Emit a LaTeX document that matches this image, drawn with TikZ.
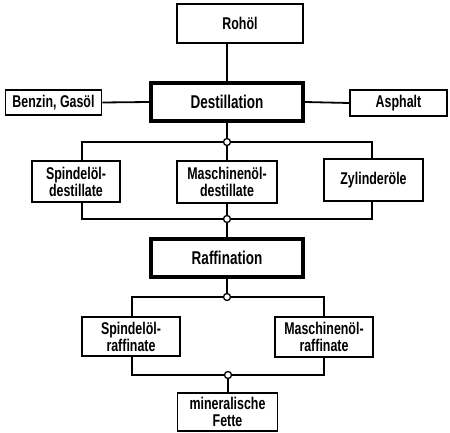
\documentclass[tikz,border=0pt]{standalone}
\usepackage{fontspec}
\setmainfont{Liberation Sans}[FakeStretch=0.73]
\begin{document}
\begin{tikzpicture}[x=1pt,y=-1pt,
  box/.style={draw,line width=1.8pt,inner sep=0pt,align=center,font=\fontsize{17}{17}\selectfont\bfseries},
  mainbox/.style={box,line width=3.8pt,font=\fontsize{18.5}{19}\selectfont\bfseries},
  link/.style={line width=1.8pt},
  junc/.style={circle,draw,line width=1.3pt,fill=white,inner sep=0pt,minimum size=7pt}]
\useasboundingbox (0,0) rectangle (450,433);

% process boxes
\node[box,minimum width=126pt,minimum height=39pt] (rohoel) at (240,23.5) {Rohöl};
\node[mainbox,minimum width=152pt,minimum height=38pt] (dest) at (227,102) {Destillation};
\node[box,minimum width=96pt,minimum height=25pt] (benzin) at (53.5,102.5) {Benzin, Gasöl};
\node[box,minimum width=97pt,minimum height=26pt] (asph) at (398.5,103) {Asphalt};

\node[box,minimum width=88pt,minimum height=41pt] (sd) at (76,181.5) {Spindelöl-\\destillate};
\node[box,minimum width=100pt,minimum height=42pt] (md) at (227,182) {Maschinenöl-\\destillate};
\node[box,minimum width=99pt,minimum height=42pt] (zyl) at (373.5,180) {Zylinderöle};

\node[mainbox,minimum width=152pt,minimum height=38pt] (raff) at (227,258) {Raffination};

\node[box,minimum width=98pt,minimum height=39pt] (sr) at (131,336.5) {Spindelöl-\\raffinate};
\node[box,minimum width=98pt,minimum height=40pt] (mr) at (324,337) {Maschinenöl-\\raffinate};

\node[box,minimum width=100pt,minimum height=38pt] (fette) at (227.5,412) {mineralische\\Fette};

% bus corners
\coordinate (b1l) at (82,142);  \coordinate (b1r) at (372,142);
\coordinate (b2l) at (82,219);  \coordinate (b2r) at (372,219);
\coordinate (b3l) at (132,297); \coordinate (b3r) at (324,297);
\coordinate (b4l) at (132,375); \coordinate (b4r) at (324,375);

% junctions
\node[junc] (j1) at (227,142) {};
\node[junc] (j2) at (227,219) {};
\node[junc] (j3) at (227,297) {};
\node[junc] (j4) at (228,375) {};

% connectors
\draw[link] (rohoel.south -| dest.north) -- (dest.north);
\draw[link] (benzin.east) -- (dest.west);
\draw[link] (dest.east) -- (asph.west);

\draw[link] (dest.south) -- (j1);
\draw[link] (j1) -- (b1l) -- (b1l |- sd.north);
\draw[link] (j1) -- (b1r) -- (b1r |- zyl.north);
\draw[link] (j1) -- (md.north);

\draw[link] (sd.south -| b2l) -- (b2l) -- (j2);
\draw[link] (zyl.south -| b2r) -- (b2r) -- (j2);
\draw[link] (md.south) -- (j2);
\draw[link] (j2) -- (raff.north);

\draw[link] (raff.south) -- (j3);
\draw[link] (j3) -- (b3l) -- (b3l |- sr.north);
\draw[link] (j3) -- (b3r) -- (b3r |- mr.north);

\draw[link] (sr.south -| b4l) -- (b4l) -- (j4);
\draw[link] (mr.south -| b4r) -- (b4r) -- (j4);
\draw[link] (j4) -- (j4 |- fette.north);
\end{tikzpicture}
\end{document}
